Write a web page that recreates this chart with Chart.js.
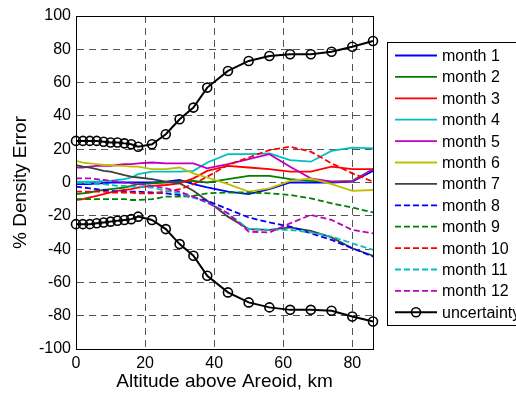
<!DOCTYPE html>
<html>
<head>
<meta charset="UTF-8">
<title>Density Error</title>
<style>
  html, body { margin: 0; padding: 0; background: #fff; }
  #wrap { width: 516px; height: 393px; }
</style>
</head>
<body>
<div id="wrap"><canvas id="grafico"></canvas></div>
<script src="https://cdn.jsdelivr.net/npm/chart.js"></script>
<script>
// altitudes (km) shared by every curve
const alt = [0,2,4,6,8,10,12,14,16,18,22,26,30,34,38,44,50,56,62,68,74,80,86];

const month1  = [-1,-1,-1,-0.5,-0.5,0,0,0,0,0,0,0.5,1.5,-1,-3,-5.5,-7,-4,0,0,0,0.5,7];
const month2  = [-7,-6.5,-6,-5,-4.5,-4,-3.5,-3,-2,-1,-0.5,0,0.5,1,0,2,4,4,2,1,0.5,1,8];
const month3  = [-10.5,-10,-9,-8,-7,-6,-5,-4.5,-4,-3,-2,-1.5,-0.5,2.5,7,10,9,8,6.5,6.5,9.5,8,8];
const month4  = [0.5,0.5,0.5,0.5,1,1,1.5,2,3,5,6.5,6.5,6.5,7,12,17,17,17.5,13.5,12.5,19,21,20.5];
const month5  = [9,9,9.5,10,10,10,10.5,11,11,11.5,12,11.5,11.5,11.5,8.5,11,14,17,9.5,2.5,0.5,0.5,8];
const month6  = [13,12,11.5,11,10.5,10.5,10,10,9.5,9.5,8,8,9,5.5,3,-1,-5.5,-3.5,1,2.5,-1,-5,-4.5];
const month7  = [10.5,9.5,9,8,7,6.5,5.5,4.5,3.5,3,2,0.5,-0.5,-5,-11,-20.5,-28,-28.5,-27,-29,-33,-39.5,-44];
const month8  = [-2.5,-3,-3.5,-4,-4.5,-5,-5.5,-5.5,-5.5,-5.5,-6,-6.5,-7.5,-9,-11,-16,-21,-24,-26.5,-30.5,-34.5,-39.5,-44.5];
const month9  = [-10,-10,-10,-10,-10,-10,-10,-10,-10.5,-10.5,-10,-8.5,-8.5,-8,-6.5,-6,-6,-6.5,-7.5,-9.5,-12.5,-15,-18];
const month10 = [-5.5,-5.5,-5.5,-5.5,-5.5,-6,-6,-6,-6,-6.5,-6.5,-5.5,-4,-1,3.5,10.5,15,19.5,21.5,18.5,11.5,5.5,0.5];
const month11 = [0,0,-0.5,-1,-1,-1.5,-2,-2,-2.5,-2.5,-3,-5,-6.5,-9,-12,-18.5,-28,-28.5,-28.5,-30,-32.5,-36.5,-40.5];
const month12 = [2.5,2.5,2.5,2,1.5,1,0.5,0,-0.5,-1,-2,-3.5,-5.5,-8.5,-12,-18.5,-29.5,-30,-24.5,-19.5,-22.5,-28.5,-30.5];

const uncertUpper = [25,25,25,25,24.5,24,24,23.5,23,21.5,23,29,38,45,57,67,73,76,77,77,78.5,81.5,85];
const uncertLower = [-25,-25,-25,-24.5,-24,-23.5,-23,-22.5,-22,-20.5,-22.5,-28,-37,-44,-56,-66,-72,-75,-76.5,-76.5,-77,-80.5,-83.5];

const monthLabels = ['month 1','month 2','month 3','month 4','month 5','month 6',
                     'month 7','month 8','month 9','month 10','month 11','month 12'];
const xTicks = [0,20,40,60,80];
const yTicks = [-100,-80,-60,-40,-20,0,20,40,60,80,100];

const monthData = [month1,month2,month3,month4,month5,month6,month7,month8,month9,month10,month11,month12];
const colores = ['#0000ff','#008000','#ff0000','#00bfbf','#bf00bf','#bfbf00','#404040'];

function pts(vals){ return alt.map((a,i)=>({x:a, y:vals[i]})); }

let datasets = monthData.map((v,i)=>({
  label: monthLabels[i],
  data: pts(v),
  borderColor: colores[i % 7],
  borderWidth: 1.8,
  borderDash: i >= 7 ? [6,3] : [],
  pointRadius: 0,
  tension: 0,
  order: 20 - i,
  clip: false
}));

const circ = {
  borderColor: '#000', borderWidth: 2, pointRadius: 4.5, pointBorderWidth: 1.6,
  pointBackgroundColor: 'rgba(0,0,0,0)', pointBorderColor: '#000', tension: 0, order: 0, clip: false
};
datasets.push(Object.assign({label: 'uncertainty', data: pts(uncertUpper)}, circ));
datasets.push(Object.assign({label: '', data: pts(uncertLower), noLegend: true}, circ));

// legend box in the MATLAB style, cut off at the right edge
const legendaPlugin = {
  id: 'legenda',
  afterDraw(chart){
    const c = chart.ctx;
    c.save();
    c.fillStyle = '#fff';
    c.fillRect(387, 42, 140, 283);
    c.strokeStyle = '#000';
    c.lineWidth = 1;
    c.strokeRect(387.5, 42.5, 140, 283);
    c.font = '16px "Liberation Sans", Arial, sans-serif';
    c.textBaseline = 'middle';
    let n = 0;
    chart.data.datasets.forEach(ds=>{
      if (ds.noLegend) return;
      const y = 55.5 + n * 21.4;
      c.strokeStyle = ds.borderColor;
      c.lineWidth = ds.borderWidth;
      c.setLineDash(ds.borderDash || []);
      c.beginPath(); c.moveTo(395, y); c.lineTo(437, y); c.stroke();
      c.setLineDash([]);
      if (ds.pointRadius) {
        c.lineWidth = ds.pointBorderWidth;
        c.beginPath(); c.arc(416, y, ds.pointRadius, 0, Math.PI*2); c.stroke();
      }
      c.fillStyle = '#000';
      c.fillText(ds.label, 442, y + 1);
      n++;
    });
    c.restore();
  }
};

const quadroPlugin = {
  id: 'quadro',
  afterDatasetsDraw(chart){
    const a = chart.chartArea, c = chart.ctx;
    c.save();
    c.strokeStyle = '#000';
    c.lineWidth = 1;
    c.strokeRect(Math.round(a.left)+0.5, Math.round(a.top)+0.5,
                 Math.round(a.right-a.left), Math.round(a.bottom-a.top));
    c.restore();
  }
};

const fonte = '"Liberation Sans", Arial, sans-serif';

new Chart(document.getElementById('grafico'), {
  type: 'line',
  data: { datasets: datasets },
  options: {
    responsive: true,
    maintainAspectRatio: false,
    animation: false,
    layout: { padding: { top: 16, right: 143, left: 0, bottom: 0 } },
    plugins: { legend: { display: false }, tooltip: { enabled: false } },
    scales: {
      x: {
        type: 'linear', min: 0, max: 86,
        afterBuildTicks: s => { s.ticks = xTicks.map(v=>({value:v})); },
        afterFit: s => { s.height = 44; },
        grid: { color: '#555', drawTicks: false, lineWidth: 1 },
        border: { dash: [7,5], color: '#000' },
        ticks: { color: '#000', padding: 5, font: { family: fonte, size: 16 } },
        title: { display: true, text: 'Altitude above Areoid, km', color: '#000',
                 padding: { top: 0, bottom: 0 }, font: { family: fonte, size: 19 } }
      },
      y: {
        type: 'linear', min: -100, max: 100,
        afterBuildTicks: s => { s.ticks = yTicks.map(v=>({value:v})); },
        afterFit: s => { s.width = 76; },
        grid: { color: '#555', drawTicks: false, lineWidth: 1 },
        border: { dash: [7,5], color: '#000' },
        ticks: { color: '#000', padding: 5, font: { family: fonte, size: 16 } },
        title: { display: true, text: '% Density Error', color: '#000',
                 padding: { top: 9, bottom: 0 }, font: { family: fonte, size: 19 } }
      }
    }
  },
  plugins: [quadroPlugin, legendaPlugin]
});
</script>
</body>
</html>
